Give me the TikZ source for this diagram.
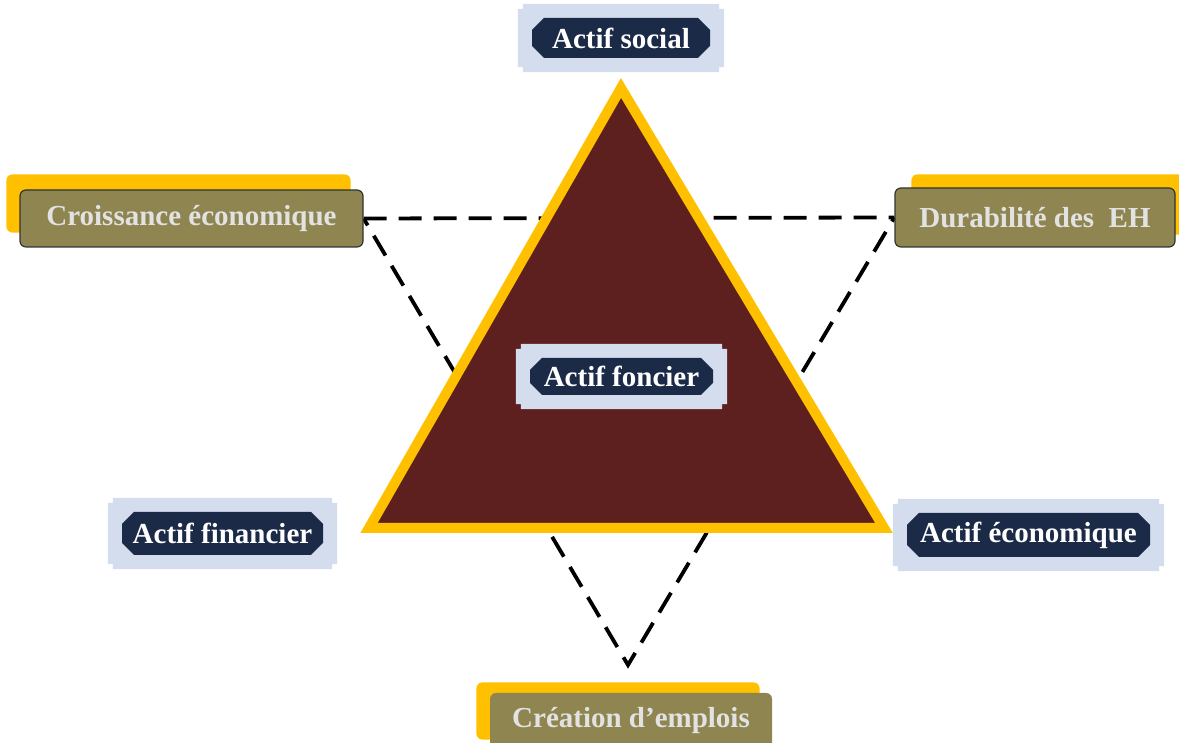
\documentclass[tikz,border=0pt]{standalone}
\usepackage{fontspec}
\setmainfont{Liberation Serif}
\usepackage{xcolor}
\usetikzlibrary{shapes.misc,calc,backgrounds}
\definecolor{Navy}{HTML}{1B2A47}
\definecolor{Plaque}{HTML}{D3DDEE}
\definecolor{Gold}{HTML}{FFC000}
\definecolor{Maroon}{HTML}{5E1F1F}
\definecolor{Tan}{HTML}{8E8550}
\definecolor{Pale}{HTML}{E2E2E2}

\begin{document}
\begin{tikzpicture}[x=1pt,y=1pt,every node/.style={font=\bfseries\fontsize{29}{34}\selectfont,align=center},
  actif/.style={chamfered rectangle,chamfered rectangle xsep=6pt,chamfered rectangle ysep=6pt,fill=Navy,text=white,inner sep=0pt},
  enjeu/.style={rectangle,rounded corners=6pt,fill=Tan,draw=black!80,line width=1.2pt,text=Pale,inner sep=0pt},
  dashline/.style={line width=3.8pt,dash pattern=on 23pt off 12pt},
  border/.style={draw=Gold,line width=10pt,line join=miter,fill=Maroon}]
  \useasboundingbox (0,0) rectangle (1179,743);
  \clip (0,0) rectangle (1179,743);
  % the four assets
  \foreach \name/\x/\y/\w/\h/\txt in {social/621/705/178/40/Actif social,
      foncier/621.5/366.5/183/37/Actif foncier,
      financier/222.5/209.5/201/43/Actif financier,
      economique/1028.5/208/243/44/Actif économique}{
    \node[actif,minimum width=\w,minimum height=\h] (\name) at (\x,\y) {\txt};
  }
  % the three outcomes
  \node[enjeu,minimum width=343,minimum height=57] (croissance) at (191.5,524.5) {Croissance économique};
  \node[enjeu,minimum width=280,minimum height=59] (durabilite) at (1035,525.5) {Durabilité des~ EH};
  \node[enjeu,draw=none,minimum width=282,minimum height=56] (creation) at (631,22) {Création d’emplois};
  \coordinate (bas) at (628,78);
  \coordinate (sommet) at (621,655);
  \coordinate (gauche) at (369,215);
  \coordinate (droite) at (884,215);
  \begin{scope}[on background layer]
    \draw[dashline] (croissance.east) -- (durabilite.west);
    \draw[dashline,dash phase=15pt] (croissance.east) -- (bas) -- (durabilite.west);
    \path[border] (sommet) -- (gauche) -- (droite) -- cycle;
    \foreach \name in {social,foncier,financier,economique}{
      \fill[Plaque] let \p1=($(\name.west |- \name.south)+(-14,-14)$), \p2=($(\name.east |- \name.north)+(14,14)$) in
        (\x1+5pt,\y1) -- (\x2-5pt,\y1) -- (\x2-5pt,\y1+5pt) -- (\x2,\y1+5pt) -- (\x2,\y2-5pt)
        -- (\x2-5pt,\y2-5pt) -- (\x2-5pt,\y2) -- (\x1+5pt,\y2) -- (\x1+5pt,\y2-5pt) -- (\x1,\y2-5pt)
        -- (\x1,\y1+5pt) -- (\x1+5pt,\y1+5pt) -- cycle;
    }
    \foreach \name/\dx/\dy in {croissance/-13/15,durabilite/17/13,creation/-13/10}{
      \fill[Gold,rounded corners=6pt] ($(\name.south west)+(\dx,\dy)$) rectangle ($(\name.north east)+(\dx,\dy)$);
    }
  \end{scope}
\end{tikzpicture}
\end{document}
